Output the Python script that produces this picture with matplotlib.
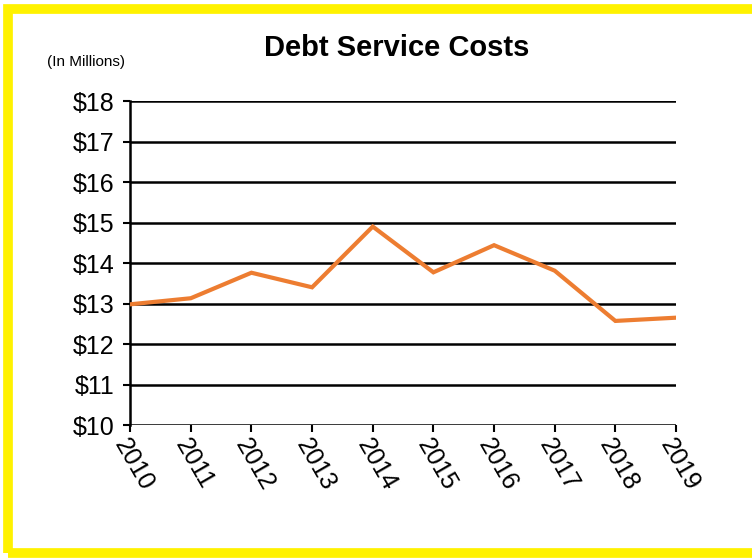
import matplotlib
matplotlib.use('Agg')
import matplotlib.pyplot as plt
from matplotlib.patches import Rectangle

years = ['2010', '2011', '2012', '2013', '2014', '2015', '2016', '2017', '2018', '2019']
costs = [12.98, 13.13, 13.76, 13.40, 14.90, 13.77, 14.44, 13.81, 12.57, 12.65]
yticks = [10, 11, 12, 13, 14, 15, 16, 17, 18]

plt.rcParams['font.family'] = ['Liberation Sans', 'DejaVu Sans']

fig = plt.figure(figsize=(7.52, 5.59), dpi=100)
ax = fig.add_axes([0.173, 0.2397, 0.726, 0.5796])

x = list(range(len(years)))
ax.plot(x, costs, color='#ED7D31', lw=3, solid_joinstyle='miter', zorder=3)

ax.set_xlim(0, len(years) - 1)
ax.set_ylim(10, 18)
ax.set_yticks(yticks)
ax.set_yticklabels(['$%d' % v for v in yticks], fontsize=18)
ax.set_xticks(x)
ax.set_xticklabels(years, fontsize=18, rotation=-60, ha='left', va='top',
                   rotation_mode='anchor')
ax.tick_params(axis='y', length=5, width=1.5, color='black', pad=6)
ax.tick_params(axis='x', length=5, width=1.5, color='black', pad=2)
ax.grid(axis='y', color='black', lw=1.8, zorder=1)
ax.set_axisbelow(True)
for s in ['top', 'right', 'bottom']:
    ax.spines[s].set_visible(False)
ax.spines['left'].set_linewidth(1.8)

fig.text(0.528, 0.914, 'Debt Service Costs', ha='center', va='center',
         fontsize=21, fontweight='bold')
fig.text(0.115, 0.889, '(In Millions)', ha='center', va='center', fontsize=11)

# yellow frame
fig.patches.append(Rectangle((8 / 752, 6 / 559), 1.0, 1 - 15 / 559,
                             transform=fig.transFigure, fill=False,
                             edgecolor='#FFF200', lw=7, zorder=0))

fig.savefig('out.png', dpi=100)
